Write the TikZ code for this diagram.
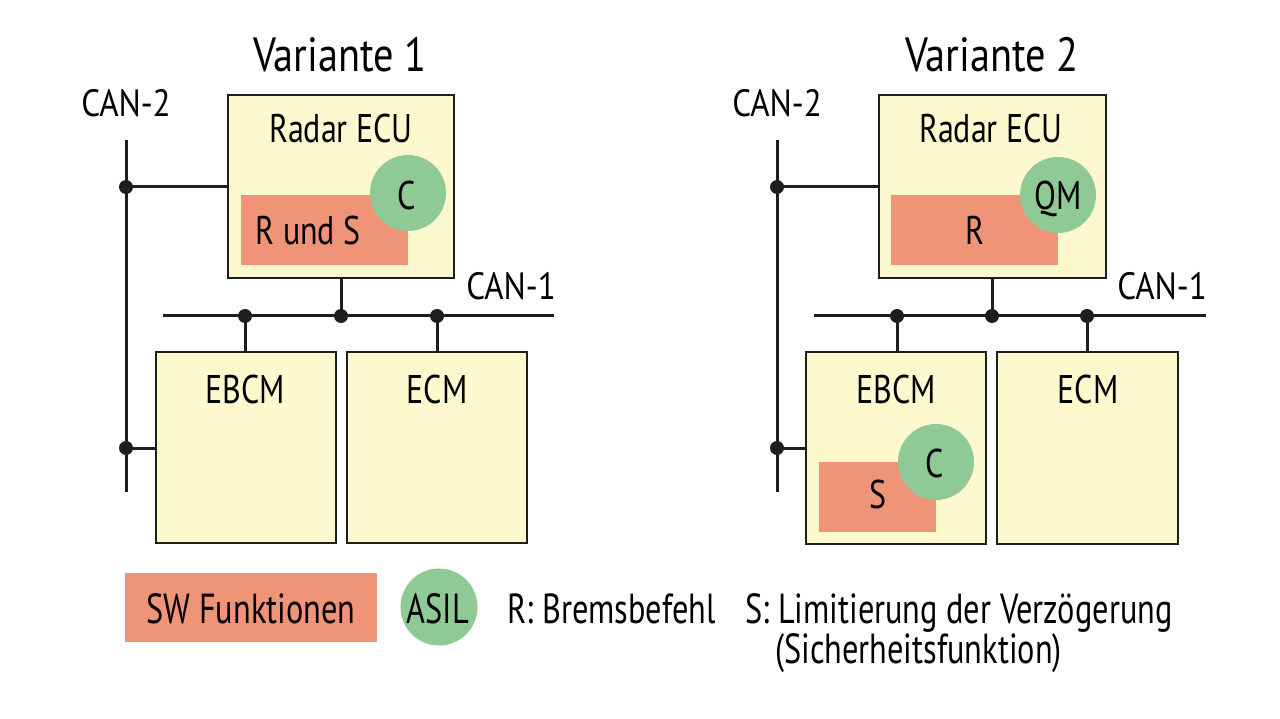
\documentclass[tikz,border=0pt]{standalone}
\usepackage{fontspec}
\setmainfont{PT Sans}
\newfontfamily\condfont[FakeStretch=0.8]{PT Sans}
\newfontfamily\titlefont[FakeStretch=0.84]{PT Sans}
\newfontfamily\canfont[FakeStretch=0.87]{PT Sans}
\newfontfamily\legfont[FakeStretch=0.77]{PT Sans}
\definecolor{ecuyellow}{RGB}{253,248,206}
\definecolor{swred}{RGB}{240,148,120}
\definecolor{asilgreen}{RGB}{143,201,150}
\definecolor{linegray}{RGB}{30,30,30}
\begin{document}
\begin{tikzpicture}[x=1pt,y=-1pt,
  ecu/.style={draw=linegray, line width=2.5pt, fill=ecuyellow, inner sep=0pt, outer sep=0pt, anchor=north west},
  swbox/.style={fill=swred, inner sep=0pt, outer sep=0pt, anchor=north west},
  asil/.style={circle, fill=asilgreen, minimum size=76pt, inner sep=0pt},
  bus/.style={draw=linegray, line width=3pt},
  busdot/.style={circle, fill=linegray, minimum size=14pt, inner sep=0pt},
  title/.style={font=\titlefont\fontsize{48}{50}\selectfont, anchor=base, inner sep=0pt},
  lbl/.style={font=\condfont\fontsize{40}{42}\selectfont, anchor=base, inner sep=0pt},
  canlbl/.style={font=\canfont\fontsize{38}{40}\selectfont, anchor=base, inner sep=0pt},
  leg/.style={font=\legfont\fontsize{42}{44}\selectfont, anchor=base, inner sep=0pt}
]
\useasboundingbox[fill=white] (0,0) rectangle (1280,719);

% ================= Variante 1 =================
\node[title] (t1) at (340,72) {Variante 1};
\node[canlbl] (can2a) at (126,117) {CAN-2};
\node[canlbl] (can1a) at (511,300) {CAN-1};

\node[ecu, minimum width=226pt, minimum height=183pt] (radarA) at (228,95) {};
\node[lbl] (radarAt) at (341,143) {Radar ECU};
\node[swbox, minimum width=167pt, minimum height=70pt] (swA) at (241,195) {};
\node[asil] (asilA) at (408,193) {};
\node[lbl] (rsA) at (308,245) {R und S};
\node[lbl] (cA) at (407,210) {C};

\node[ecu, minimum width=180pt, minimum height=191pt] (ebcmA) at (156,352) {};
\node[ecu, minimum width=180pt, minimum height=191pt] (ecmA) at (347,352) {};
\node[lbl] (ebcmAt) at (245,403) {EBCM};
\node[lbl] (ecmAt) at (437,403) {ECM};

% CAN-2 left
\coordinate (c2At) at (126,140);
\coordinate (c2Ab) at (126,492);
\draw[bus] (c2At) -- (c2Ab);
\node[busdot] (dA1) at (126,187) {};
\node[busdot] (dA2) at (126,448) {};
\draw[bus] (dA1.center) -- (radarA.west |- dA1);
\draw[bus] (dA2.center) -- (ebcmA.west |- dA2);

% CAN-1 left
\coordinate (c1Al) at (163,316);
\coordinate (c1Ar) at (554,316);
\draw[bus] (c1Al) -- (c1Ar);
\node[busdot] (dA3) at (245,316) {};
\node[busdot] (dA4) at (341,316) {};
\node[busdot] (dA5) at (437,316) {};
\draw[bus] (dA4.center) -- (dA4 |- radarA.south);
\draw[bus] (dA3.center) -- (dA3 |- ebcmA.north);
\draw[bus] (dA5.center) -- (dA5 |- ecmA.north);

% ================= Variante 2 =================
\node[title] (t2) at (992,72) {Variante 2};
\node[canlbl] (can2b) at (777,117) {CAN-2};
\node[canlbl] (can1b) at (1162,300) {CAN-1};

\node[ecu, minimum width=227pt, minimum height=183pt] (radarB) at (879,95) {};
\node[lbl] (radarBt) at (991,143) {Radar ECU};
\node[swbox, minimum width=167pt, minimum height=70pt] (swB) at (891,195) {};
\node[asil] (asilB) at (1058,195) {};
\node[lbl] (rB) at (975,245) {R};
\node[lbl] (qmB) at (1058,210) {QM};

\node[ecu, minimum width=180pt, minimum height=192pt] (ebcmB) at (806,352) {};
\node[ecu, minimum width=181pt, minimum height=192pt] (ecmB) at (997,352) {};
\node[lbl] (ebcmBt) at (896,403) {EBCM};
\node[lbl] (ecmBt) at (1088,403) {ECM};
\node[swbox, minimum width=117pt, minimum height=70pt] (swB2) at (819,462) {};
\node[asil] (asilB2) at (936,462) {};
\node[lbl] (sB) at (878,508) {S};
\node[lbl] (cB) at (935,477) {C};

% CAN-2 right
\coordinate (c2Bt) at (777,140);
\coordinate (c2Bb) at (777,492);
\draw[bus] (c2Bt) -- (c2Bb);
\node[busdot] (dB1) at (777,187) {};
\node[busdot] (dB2) at (777,448) {};
\draw[bus] (dB1.center) -- (radarB.west |- dB1);
\draw[bus] (dB2.center) -- (ebcmB.west |- dB2);

% CAN-1 right
\coordinate (c1Bl) at (814,316);
\coordinate (c1Br) at (1206,316);
\draw[bus] (c1Bl) -- (c1Br);
\node[busdot] (dB3) at (897,316) {};
\node[busdot] (dB4) at (992,316) {};
\node[busdot] (dB5) at (1087,316) {};
\draw[bus] (dB4.center) -- (dB4 |- radarB.south);
\draw[bus] (dB3.center) -- (dB3 |- ebcmB.north);
\draw[bus] (dB5.center) -- (dB5 |- ecmB.north);

% ================= Legend =================
\node[swbox, minimum width=252pt, minimum height=69pt] (legsw) at (125,573) {};
\node[leg] (legswt) at (251,623) {SW Funktionen};
\node[asil, minimum size=77pt] (legasil) at (439,607) {};
\node[leg] (legasilt) at (438,623) {ASIL};
\node[leg, anchor=base west] (legr) at (507,623) {R: Bremsbefehl};
\node[leg, anchor=base west] (legs) at (745,623) {S: Limitierung der Verzögerung};
\node[leg, anchor=base west] (legs2) at (775,663) {(Sicherheitsfunktion)};
\end{tikzpicture}
\end{document}
